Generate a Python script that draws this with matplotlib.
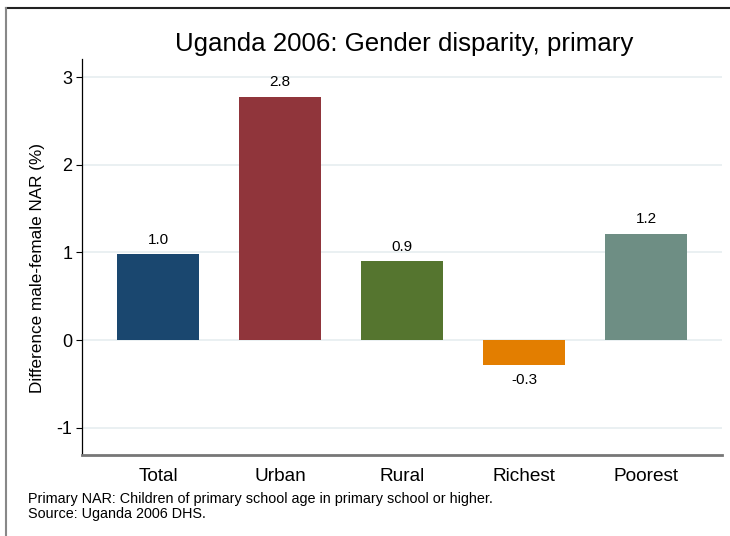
import matplotlib
matplotlib.use("Agg")
import matplotlib.pyplot as plt
from matplotlib.lines import Line2D

plt.rcParams['font.family'] = ['Liberation Sans', 'DejaVu Sans']

categories = ["Total", "Urban", "Rural", "Richest", "Poorest"]
values = [0.98, 2.78, 0.90, -0.29, 1.21]
colors = ["#1a476f", "#90353b", "#55752f", "#e37e00", "#6e8e84"]
yticks = [-1, 0, 1, 2, 3]

W, H = 730, 536
fig = plt.figure(figsize=(W / 100, H / 100), dpi=100)
fig.patch.set_facecolor("white")

# outer frame (top and left)
fig.add_artist(Line2D([6 / W, 1], [1 - 8 / H, 1 - 8 / H], transform=fig.transFigure, color="#222222", lw=1.5))
fig.add_artist(Line2D([6 / W, 6 / W], [0, 1 - 8 / H], transform=fig.transFigure, color="#888888", lw=1.5))

ax_l, ax_r, ax_t, ax_b = 82, 722, 59, 455
ax = fig.add_axes([ax_l / W, 1 - ax_b / H, (ax_r - ax_l) / W, (ax_b - ax_t) / H])

x = list(range(len(categories)))
bars = ax.bar(x, values, width=0.672, color=colors, zorder=3)
for xi, v in zip(x, values):
    if v >= 0:
        ax.annotate(f"{v:.1f}", (xi, v), xytext=(0, 5.5), textcoords="offset points",
                    ha="center", va="bottom", fontsize=11)
    else:
        ax.annotate(f"{v:.1f}", (xi, v), xytext=(0, -5.5), textcoords="offset points",
                    ha="center", va="top", fontsize=11)

ax.set_xlim(-0.623, 4.623)
ax.set_ylim(-1.314, 3.211)
ax.set_yticks(yticks)
ax.set_yticklabels([str(t) for t in yticks], fontsize=13)
ax.set_xticks(x)
ax.set_xticklabels(categories, fontsize=13.7)
ax.tick_params(axis="x", length=0, pad=9.5)
ax.tick_params(axis="y", length=4, width=0.8, pad=3)
ax.yaxis.grid(True, color="#e6edf0", lw=1.2, zorder=0)
ax.set_axisbelow(True)
for s in ["top", "right"]:
    ax.spines[s].set_visible(False)
ax.spines["left"].set_color("black")
ax.spines["left"].set_linewidth(0.9)
ax.spines["bottom"].set_color("#777777")
ax.spines["bottom"].set_linewidth(2)
ax.set_ylabel("Difference male-female NAR (%)", fontsize=12.3)
ax.yaxis.set_label_coords((45 - ax_l) / (ax_r - ax_l), (ax_b - 268) / (ax_b - ax_t))

fig.text(404 / W, 1 - 44 / H, "Uganda 2006: Gender disparity, primary", ha="center", va="center", fontsize=18.6)
fig.text(28 / W, 1 - 506.5 / H, "Primary NAR: Children of primary school age in primary school or higher.\nSource: Uganda 2006 DHS.",
         ha="left", va="center", fontsize=10.4, linespacing=1.04)

fig.savefig("out.png", dpi=100, facecolor="white")
